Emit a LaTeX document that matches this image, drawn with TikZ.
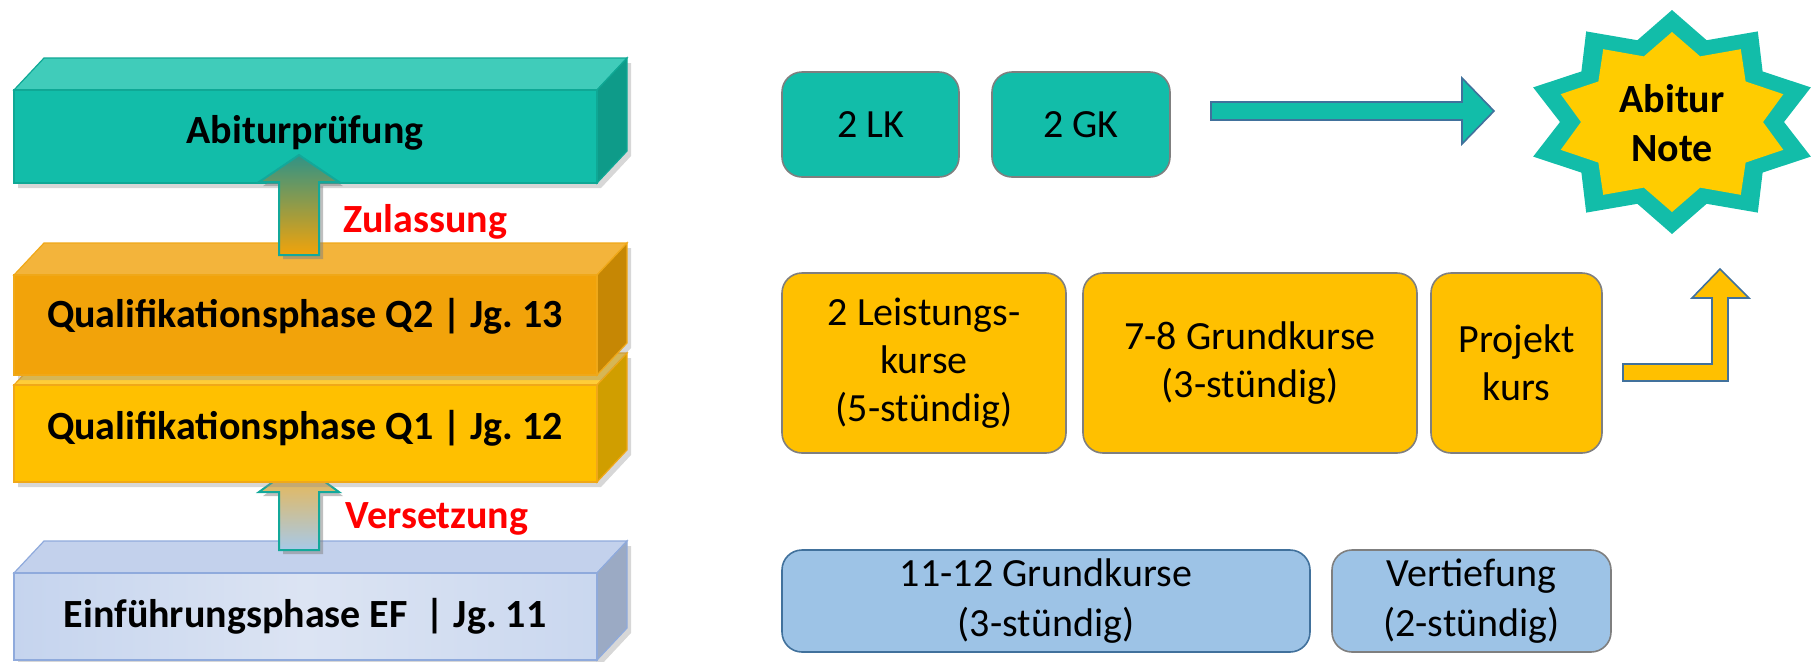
\documentclass[tikz,border=0pt]{standalone}
\usepackage{fontspec}
\setmainfont{Carlito}
\definecolor{abiteal}{HTML}{12BDA9}
\definecolor{abitealtop}{HTML}{40CCBA}
\definecolor{abitealside}{HTML}{0E9B89}
\definecolor{abitealline}{HTML}{0FA895}
\definecolor{qtwo}{HTML}{F2A30A}
\definecolor{qtwotop}{HTML}{F3B43B}
\definecolor{qtwoside}{HTML}{C68704}
\definecolor{qone}{HTML}{FFC000}
\definecolor{qonetop}{HTML}{FFCD38}
\definecolor{qoneside}{HTML}{D09E00}
\definecolor{qline}{HTML}{F0A818}
\definecolor{efleft}{HTML}{C5D4EE}
\definecolor{efmid}{HTML}{DCE4F3}
\definecolor{eftop}{HTML}{C3D1EC}
\definecolor{efside}{HTML}{9BAAC4}
\definecolor{efline}{HTML}{8FAADC}
\definecolor{passred}{HTML}{FF0000}
\definecolor{boxgray}{HTML}{7F7F7F}
\definecolor{boxblue}{HTML}{41719C}
\definecolor{efblue}{HTML}{9DC3E6}
\definecolor{notegold}{HTML}{FFCC00}
\definecolor{arrowteal}{HTML}{13A89A}
\tikzset{
    phase/.style={font=\fontsize{20}{24}\selectfont\bfseries},
    pass/.style={font=\fontsize{20}{24}\selectfont\bfseries, text=passred},
    course/.style={rounded corners=10pt, draw=boxgray, line width=0.8pt,
        align=center, inner sep=0pt, font=\fontsize{20}{24}\selectfont},
    tealcourse/.style={course, fill=abiteal},
    goldcourse/.style={course, fill=qone},
    bluecourse/.style={course, fill=efblue, font=\fontsize{20}{25}\selectfont},
    blockshadow/.style={fill=black!45, opacity=0.35},
    stepup/.style={draw=arrowteal, line width=1pt, line join=miter},
    blockarrow/.style={draw=boxblue, line width=0.8pt, line join=miter}
}
\begin{document}
\begin{tikzpicture}[x=0.5pt, y=-0.5pt]
\useasboundingbox (0,0) rectangle (1816,661);

% Einfuehrungsphase
\fill[blockshadow, shift={(4,5)}] (14,573) -- (44,541) -- (627,541) -- (627,628) -- (597,660) -- (14,660) -- cycle;
\filldraw[fill=eftop, draw=efline, line width=0.6pt] (14,573) -- (44,541) -- (627,541) -- (597,573) -- cycle;
\filldraw[fill=efside, draw=efline, line width=0.6pt] (597,573) -- (627,541) -- (627,628) -- (597,660) -- cycle;
\shade[left color=efleft, right color=efleft!80!efmid, middle color=efmid] (14,573) rectangle (597,660);
\draw[efline, line width=0.6pt] (14,573) rectangle (597,660);
\node[phase] (ef) at (305,616) {Einführungsphase EF~~| Jg.~11};

% Versetzung
\fill[black!50, opacity=0.5, shift={(4,4)}] (279,550) -- (279,492) -- (259,492) -- (299,463) -- (339,492) -- (319,492) -- (319,550) -- cycle;
\shade[top color=qtwotop, bottom color=efblue!90] (279,550) -- (279,492) -- (259,492) -- (299,463) -- (339,492) -- (319,492) -- (319,550) -- cycle;
\draw[stepup] (279,550) -- (279,492) -- (259,492) -- (299,463) -- (339,492) -- (319,492) -- (319,550) -- cycle;
\node[pass] (versetzung) at (437,519) {Versetzung};

% Qualifikationsphase Q1
\fill[blockshadow, shift={(4,5)}] (14,385) -- (44,353) -- (627,353) -- (627,450) -- (597,482) -- (14,482) -- cycle;
\filldraw[fill=qonetop, draw=qline, line width=0.6pt] (14,385) -- (44,353) -- (627,353) -- (597,385) -- cycle;
\filldraw[fill=qoneside, draw=qline, line width=0.6pt] (597,385) -- (627,353) -- (627,450) -- (597,482) -- cycle;
\filldraw[fill=qone, draw=qline, line width=0.6pt] (14,385) rectangle (597,482);
\node[phase] (qone) at (305,428) {Qualifikationsphase Q1 | Jg.~12};

% Qualifikationsphase Q2
\fill[blockshadow, shift={(4,5)}] (14,275) -- (44,243) -- (627,243) -- (627,343) -- (597,375) -- (14,375) -- cycle;
\filldraw[fill=qtwotop, draw=qline, line width=0.6pt] (14,275) -- (44,243) -- (627,243) -- (597,275) -- cycle;
\filldraw[fill=qtwoside, draw=qline, line width=0.6pt] (597,275) -- (627,243) -- (627,343) -- (597,375) -- cycle;
\filldraw[fill=qtwo, draw=qline, line width=0.6pt] (14,275) rectangle (597,375);
\node[phase] (qtwo) at (305,316) {Qualifikationsphase Q2 | Jg.~13};

% Abiturpruefung
\fill[blockshadow, shift={(4,5)}] (14,90) -- (44,58) -- (627,58) -- (627,151) -- (597,183) -- (14,183) -- cycle;
\filldraw[fill=abitealtop, draw=abitealline, line width=0.6pt] (14,90) -- (44,58) -- (627,58) -- (597,90) -- cycle;
\filldraw[fill=abitealside, draw=abitealline, line width=0.6pt] (597,90) -- (627,58) -- (627,151) -- (597,183) -- cycle;
\filldraw[fill=abiteal, draw=abitealline, line width=0.6pt] (14,90) rectangle (597,183);
\node[phase] (abi) at (305,133) {Abiturprüfung};

% Zulassung
\fill[black!50, opacity=0.5, shift={(4,4)}] (279,255) -- (279,182) -- (259,182) -- (299,155) -- (339,182) -- (319,182) -- (319,255) -- cycle;
\shade[top color=abitealside!70!gray, bottom color=qtwo] (279,255) -- (279,182) -- (259,182) -- (299,155) -- (339,182) -- (319,182) -- (319,255) -- cycle;
\draw[stepup] (279,255) -- (279,182) -- (259,182) -- (299,155) -- (339,182) -- (319,182) -- (319,255) -- cycle;
\node[pass] (zulassung) at (425,222) {Zulassung};

% Pruefungsfaecher
\node[tealcourse, minimum width=88.5pt, minimum height=52.5pt] (lk) at (870.5,124.5) {2 LK};
\node[tealcourse, minimum width=89pt, minimum height=52.5pt] (gk) at (1081,124.5) {2 GK};
\filldraw[blockarrow, fill=abiteal] (1211,102) -- (1462,102) -- (1462,78) -- (1494,111) -- (1462,144) -- (1462,120) -- (1211,120) -- cycle;

% Note
\begin{scope}[shift={(1672,122)}]
  \fill[abiteal] (90:146 and 112) \foreach \a in {0,36,...,324} { -- ({90+\a}:146 and 112) -- ({108+\a}:112 and 86) } -- cycle;
  \fill[notegold] (90:117 and 90) \foreach \a in {0,36,...,324} { -- ({90+\a}:117 and 90) -- ({108+\a}:91 and 69) } -- cycle;
\end{scope}
\node[phase, align=center, font=\fontsize{20}{24.5}\selectfont\bfseries] (note) at (1672,123) {Abitur\\Note};

% Qualifikationsphase Kurse
\node[goldcourse, minimum width=142pt, minimum height=90pt] (lkq) at (924,363) {2 Leistungs-\\kurse\\(5-stündig)};
\node[goldcourse, minimum width=167pt, minimum height=90pt] (gkq) at (1250,363) {7-8 Grundkurse\\(3-stündig)};
\node[goldcourse, minimum width=85.5pt, minimum height=90pt] (proj) at (1516.5,363) {Projekt\\kurs};
\filldraw[blockarrow, fill=qone] (1623,364) -- (1712,364) -- (1712,298) -- (1692,298) -- (1720,269) -- (1749,298) -- (1728,298) -- (1728,381) -- (1623,381) -- cycle;

% Einfuehrungsphase Kurse
\node[bluecourse, draw=boxblue, minimum width=264pt, minimum height=51pt] (gkef) at (1046,601) {11-12 Grundkurse\\(3-stündig)};
\node[bluecourse, minimum width=139.5pt, minimum height=51pt] (vert) at (1471.5,601) {Vertiefung\\(2-stündig)};
\end{tikzpicture}
\end{document}
